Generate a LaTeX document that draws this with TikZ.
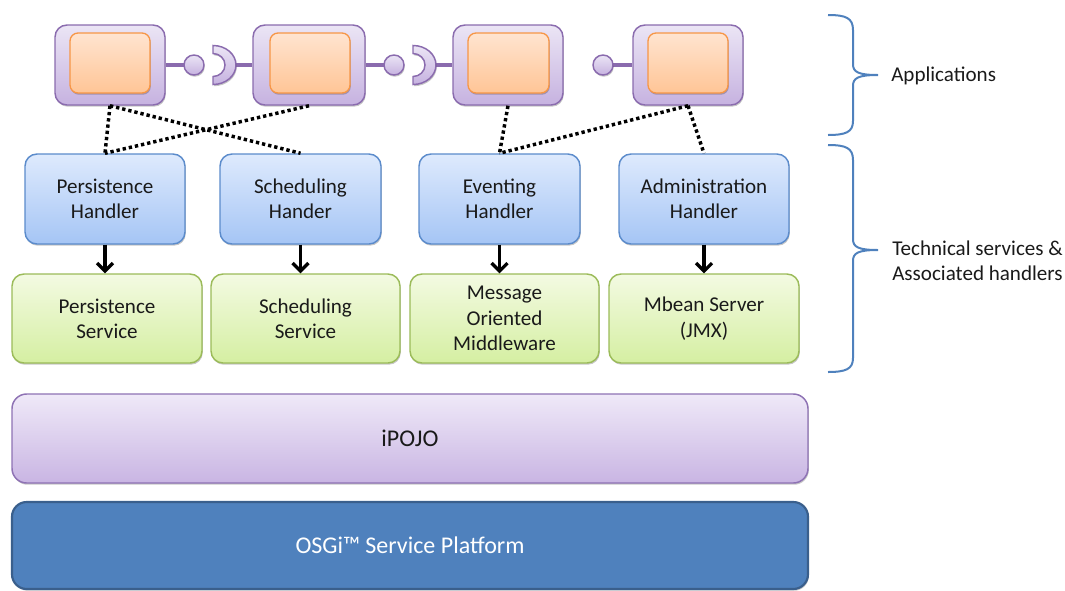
\documentclass[tikz,border=0pt]{standalone}
\usepackage{fontspec}
\setmainfont{Carlito}
\usetikzlibrary{shadows,arrows.meta}
\definecolor{txt}{HTML}{1A1A1A}
\definecolor{appD}{HTML}{8A6BAE}
\definecolor{appT}{HTML}{EBE5F5}
\definecolor{appB}{HTML}{C6B2E0}
\definecolor{orD}{HTML}{F79646}
\definecolor{orT}{HTML}{FFE4D0}
\definecolor{orB}{HTML}{FFC596}
\definecolor{hdD}{HTML}{5B8BCB}
\definecolor{hdT}{HTML}{DEEAFD}
\definecolor{hdB}{HTML}{A5C5F5}
\definecolor{svD}{HTML}{9BBB59}
\definecolor{svT}{HTML}{F3FAE2}
\definecolor{svB}{HTML}{D5EFA2}
\definecolor{ipD}{HTML}{8E72B4}
\definecolor{ipT}{HTML}{EFE9F8}
\definecolor{ipB}{HTML}{C9B5E3}
\definecolor{osF}{HTML}{4F81BD}
\definecolor{osD}{HTML}{3A5F8C}
\definecolor{brc}{HTML}{4F81BD}
\tikzset{
  rect/.style n args={4}{at={({(#1+#3)/2},{(#2+#4)/2})}, minimum width={(#3-#1)*0.75pt}, minimum height={(#4-#2)*0.75pt}},
  shad/.style={drop shadow={shadow xshift=0.6pt, shadow yshift=-1.3pt, opacity=0.22, fill=black}},
  box/.style={inner sep=0pt, align=center, text=txt, line width=1.1pt, shad},
  appouter/.style={box, draw=appD, top color=appT, bottom color=appB, rounded corners=9pt},
  appinner/.style={box, draw=orD, top color=orT, bottom color=orB, rounded corners=6pt, line width=1pt},
  handler/.style={box, draw=hdD, top color=hdT, bottom color=hdB, rounded corners=9pt},
  service/.style={box, draw=svD, top color=svT, bottom color=svB, rounded corners=9pt},
  layer/.style={box, rounded corners=11pt, font=\fontsize{18}{22}\selectfont},
  plug/.style={circle, minimum size=15pt, inner sep=0pt, draw=appD, line width=1.1pt, top color=appT, bottom color=appB, shad},
  conn/.style={draw=appD, line width=2.6pt},
  dots/.style={draw=black, line width=2.6pt, dash pattern=on 2.5pt off 2.2pt},
  arr/.style={draw=black, line width=2.4pt, -{Straight Barb[length=6pt, width=12pt, line width=2.4pt]}},
  brace/.style={draw=brc, line width=1.5pt},
  socket/.pic={
    \draw[draw=appD, line width=1.1pt, top color=appT, bottom color=appB, shad]
      (0,-19.5) .. controls (12.7,-19.5) and (23,-10.8) .. (23,0)
      .. controls (23,10.8) and (12.7,19.5) .. (0,19.5)
      -- (0,11.5) .. controls (6.6,11.5) and (12,6.3) .. (12,0)
      .. controls (12,-6.3) and (6.6,-11.5) .. (0,-11.5) -- cycle;
  }
}
\begin{document}
\begin{tikzpicture}[x=0.75pt, y=-0.75pt, font=\fontsize{15.8}{19}\selectfont]
\useasboundingbox (0,0) rectangle (1065,590);

% Application connectors
\coordinate (c1) at (194,65);
\coordinate (c2) at (394,65);
\coordinate (c3) at (603,65);
\coordinate (s1) at (236,65);
\coordinate (s2) at (436,65);

% Applications
\node[appouter, rect={55}{25}{165}{105}] (a1) {};
\node[appouter, rect={253}{25}{365}{105}] (a2) {};
\node[appouter, rect={453}{25}{563}{105}] (a3) {};
\node[appouter, rect={633}{25}{743}{105}] (a4) {};
\node[appinner, rect={70}{33}{150}{93}] (o1) {};
\node[appinner, rect={270}{33}{350}{93}] (o2) {};
\node[appinner, rect={468}{33}{549}{93}] (o3) {};
\node[appinner, rect={648}{33}{728}{93}] (o4) {};

\draw[conn] (a1.east) -- (c1);
\draw[conn] (s1) -- (a2.west);
\draw[conn] (a2.east) -- (c2);
\draw[conn] (s2) -- (a3.west);
\draw[conn] (c3) -- (a4.west);
\node[plug] (p1) at (c1) {};
\node[plug] (p2) at (c2) {};
\node[plug] (p3) at (c3) {};
\pic at (213,65) {socket};
\pic at (413,65) {socket};

% Handlers
\node[handler, rect={25}{154}{185}{244}] (ph) {Persistence\\Handler};
\node[handler, rect={220}{154}{381}{244}] (sh) {Scheduling\\Hander};
\node[handler, rect={419}{154}{580}{244}] (eh) {Eventing\\Handler};
\node[handler, rect={619}{154}{789}{244}] (ah) {Administration\\Handler};

% Services
\node[service, rect={12}{274}{202}{363}] (ps) {Persistence\\Service};
\node[service, rect={211}{274}{400}{363}] (ss) {Scheduling\\Service};
\node[service, rect={410}{274}{599}{363}] (ms) {Message\\Oriented\\Middleware};
\node[service, rect={609}{274}{799}{363}] (js) {Mbean Server\\(JMX)};

% Layers
\node[layer, draw=ipD, top color=ipT, bottom color=ipB, rect={12}{394}{808}{483}] (ip) {iPOJO};
\node[layer, draw=osD, fill=osF, text=white, line width=1.6pt, rect={12}{502}{808}{589}] (os) {OSGi™ Service Platform};

% Dotted dependencies
\draw[dots] (a1.south) -- (ph.north);
\draw[dots] (a1.south) -- (sh.north);
\draw[dots] (a2.south) -- (ph.north);
\draw[dots] (a3.south) -- (eh.north);
\draw[dots] (a4.south) -- (eh.north);
\draw[dots] (a4.south) -- (ah.north);

% Arrows handler -> service
\draw[arr] (ph.south) -- (ph.south |- ps.north);
\draw[arr] (sh.south) -- (sh.south |- ss.north);
\draw[arr] (eh.south) -- (eh.south |- ms.north);
\draw[arr] (ah.south) -- (ah.south |- js.north);

% Braces
\draw[brace] (828,15) .. controls (846,15) and (853,18) .. (853,30)
  -- (853,64) .. controls (853,72) and (858,75) .. (878,75)
  .. controls (858,75) and (853,78) .. (853,86)
  -- (853,121) .. controls (853,132) and (846,135) .. (828,135);
\draw[brace] (828,145) .. controls (846,145) and (853,148) .. (853,160)
  -- (853,239) .. controls (853,247) and (858,250) .. (878,250)
  .. controls (858,250) and (853,253) .. (853,261)
  -- (853,358) .. controls (853,369) and (846,372) .. (828,372);

\node[anchor=west, text=txt, inner sep=0pt] (lapp) at (891,76) {Applications};
\node[anchor=west, text=txt, inner sep=0pt, align=left] (ltech) at (892,261) {Technical services \&\\Associated handlers};
\end{tikzpicture}
\end{document}
